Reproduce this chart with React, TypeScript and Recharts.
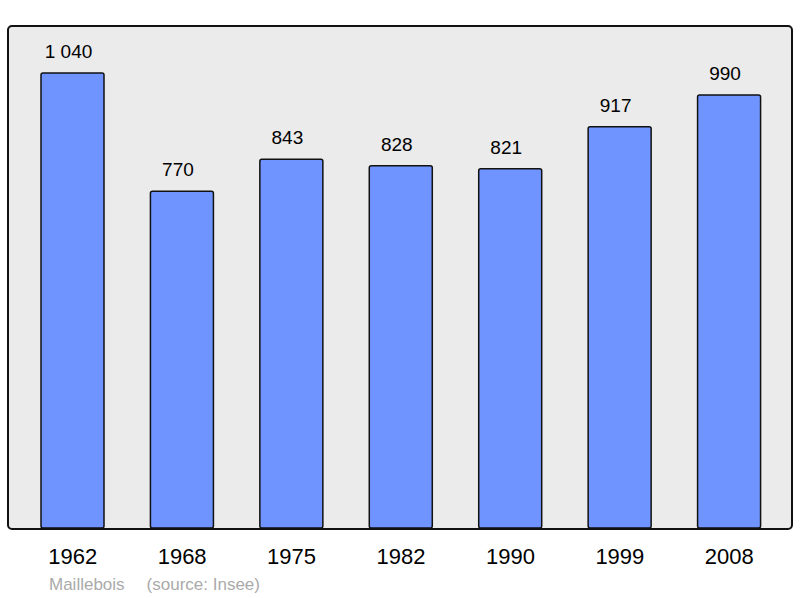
import { BarChart, Bar, XAxis, YAxis, LabelList } from 'recharts';

const years = ['1962', '1968', '1975', '1982', '1990', '1999', '2008'];
const population = [1040, 770, 843, 828, 821, 917, 990];
const townName = 'Maillebois';
const sourceText = '(source: Insee)';

const data = years.map((year, i) => ({ year, population: population[i] }));

const fontFamily = '"Liberation Sans", Arial, sans-serif';

const formatPop = (v: number) => String(v).replace(/\B(?=(\d{3})+(?!\d))/g, ' ');

export default function App() {
  return (
    <div
      style={{
        position: 'absolute',
        left: 0,
        top: 0,
        width: 800,
        height: 598,
        background: '#fff',
        fontFamily,
      }}
    >
      {/* plot frame background */}
      <div
        style={{
          position: 'absolute',
          left: 8,
          top: 26,
          width: 784,
          height: 503,
          background: '#ebebeb',
          borderRadius: 5,
        }}
      />
      <div style={{ position: 'absolute', left: 0, top: 0 }}>
        <BarChart
          width={800}
          height={598}
          data={data}
          margin={{ top: 3, right: 16, bottom: 40, left: 18 }}
          barSize={63}
        >
          <XAxis
            dataKey="year"
            height={30}
            axisLine={false}
            tickLine={false}
            tick={{ fontSize: 22, fill: '#000', fontFamily }}
            tickMargin={14}
          />
          <YAxis hide domain={[0, 1200]} />
          <Bar
            dataKey="population"
            fill="#7094ff"
            stroke="#111"
            strokeWidth={1.5}
            radius={2}
            isAnimationActive={false}
          >
            <LabelList
              dataKey="population"
              position="top"
              offset={15}
              dx={-4}
              formatter={(v: number) => formatPop(v)}
              style={{ fontSize: 19, fill: '#000', fontFamily }}
            />
          </Bar>
        </BarChart>
      </div>
      {/* plot frame border on top */}
      <div
        style={{
          position: 'absolute',
          left: 7,
          top: 25,
          width: 782,
          height: 501,
          border: '2px solid #111',
          borderRadius: 5,
          pointerEvents: 'none',
        }}
      />
      <div
        style={{
          position: 'absolute',
          left: 49,
          top: 575,
          fontSize: 17,
          color: '#aaaaaa',
          whiteSpace: 'pre',
        }}
      >
        {townName}
        <span style={{ marginLeft: 22 }}>{sourceText}</span>
      </div>
    </div>
  );
}
